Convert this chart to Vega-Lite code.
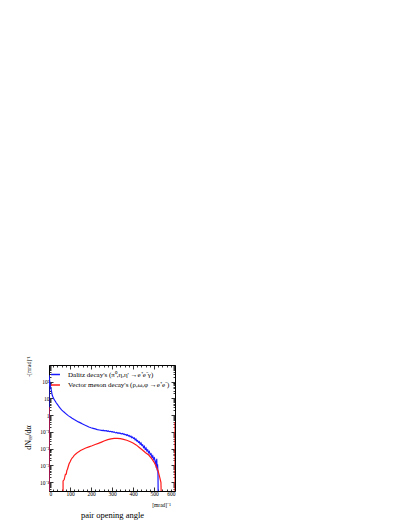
{
  "$schema": "https://vega.github.io/schema/vega-lite/v6.json",
  "width": 126,
  "height": 126,
  "autosize": "none",
  "padding": {"left": 49, "top": 365, "right": 232, "bottom": 36},
  "background": "white",
  "config": {
    "font": "Liberation Serif",
    "view": {"stroke": "black", "strokeWidth": 1},
    "axis": {"domain": false, "grid": false, "labelFont": "Liberation Serif", "titleFont": "Liberation Serif", "tickColor": "black", "labelColor": "black", "titleColor": "black", "titleFontWeight": "normal", "tickWidth": 0.8},
    "legend": {"labelColor": "black", "labelFont": "Liberation Serif"}
  },
  "data": {"values": [
    {"s": "Dalitz", "g": "b", "x": 0, "y": 0.00001}, {"s": "Dalitz", "g": "b", "x": 0, "y": 250},
    {"s": "Dalitz", "g": "b", "x": 1, "y": 200}, {"s": "Dalitz", "g": "b", "x": 2, "y": 160},
    {"s": "Dalitz", "g": "b", "x": 3, "y": 120}, {"s": "Dalitz", "g": "b", "x": 4, "y": 95},
    {"s": "Dalitz", "g": "b", "x": 5, "y": 75}, {"s": "Dalitz", "g": "b", "x": 6, "y": 62},
    {"s": "Dalitz", "g": "b", "x": 7, "y": 52}, {"s": "Dalitz", "g": "b", "x": 8, "y": 45},
    {"s": "Dalitz", "g": "b", "x": 10, "y": 35}, {"s": "Dalitz", "g": "b", "x": 12, "y": 27},
    {"s": "Dalitz", "g": "b", "x": 14, "y": 19}, {"s": "Dalitz", "g": "b", "x": 16, "y": 15},
    {"s": "Dalitz", "g": "b", "x": 18, "y": 13}, {"s": "Dalitz", "g": "b", "x": 20, "y": 11.5},
    {"s": "Dalitz", "g": "b", "x": 23, "y": 9.5}, {"s": "Dalitz", "g": "b", "x": 26, "y": 8.2},
    {"s": "Dalitz", "g": "b", "x": 30, "y": 6.8}, {"s": "Dalitz", "g": "b", "x": 35, "y": 5.4},
    {"s": "Dalitz", "g": "b", "x": 40, "y": 4.4}, {"s": "Dalitz", "g": "b", "x": 45, "y": 3.6},
    {"s": "Dalitz", "g": "b", "x": 50, "y": 3.0}, {"s": "Dalitz", "g": "b", "x": 55, "y": 2.5},
    {"s": "Dalitz", "g": "b", "x": 60, "y": 2.1}, {"s": "Dalitz", "g": "b", "x": 70, "y": 1.6},
    {"s": "Dalitz", "g": "b", "x": 80, "y": 1.25}, {"s": "Dalitz", "g": "b", "x": 90, "y": 0.98},
    {"s": "Dalitz", "g": "b", "x": 100, "y": 0.8}, {"s": "Dalitz", "g": "b", "x": 110, "y": 0.66},
    {"s": "Dalitz", "g": "b", "x": 120, "y": 0.55}, {"s": "Dalitz", "g": "b", "x": 130, "y": 0.47},
    {"s": "Dalitz", "g": "b", "x": 140, "y": 0.4}, {"s": "Dalitz", "g": "b", "x": 150, "y": 0.35},
    {"s": "Dalitz", "g": "b", "x": 160, "y": 0.3}, {"s": "Dalitz", "g": "b", "x": 170, "y": 0.26},
    {"s": "Dalitz", "g": "b", "x": 180, "y": 0.23}, {"s": "Dalitz", "g": "b", "x": 190, "y": 0.2},
    {"s": "Dalitz", "g": "b", "x": 200, "y": 0.18}, {"s": "Dalitz", "g": "b", "x": 210, "y": 0.165},
    {"s": "Dalitz", "g": "b", "x": 220, "y": 0.152}, {"s": "Dalitz", "g": "b", "x": 230, "y": 0.14},
    {"s": "Dalitz", "g": "b", "x": 240, "y": 0.132}, {"s": "Dalitz", "g": "b", "x": 250, "y": 0.125},
    {"s": "Dalitz", "g": "b", "x": 254, "y": 0.121}, {"s": "Dalitz", "g": "b", "x": 258, "y": 0.127},
    {"s": "Dalitz", "g": "b", "x": 262, "y": 0.118}, {"s": "Dalitz", "g": "b", "x": 266, "y": 0.122},
    {"s": "Dalitz", "g": "b", "x": 270, "y": 0.116}, {"s": "Dalitz", "g": "b", "x": 274, "y": 0.119},
    {"s": "Dalitz", "g": "b", "x": 278, "y": 0.111}, {"s": "Dalitz", "g": "b", "x": 282, "y": 0.116},
    {"s": "Dalitz", "g": "b", "x": 286, "y": 0.109}, {"s": "Dalitz", "g": "b", "x": 290, "y": 0.105},
    {"s": "Dalitz", "g": "b", "x": 294, "y": 0.11}, {"s": "Dalitz", "g": "b", "x": 298, "y": 0.102},
    {"s": "Dalitz", "g": "b", "x": 302, "y": 0.104}, {"s": "Dalitz", "g": "b", "x": 306, "y": 0.097},
    {"s": "Dalitz", "g": "b", "x": 310, "y": 0.1}, {"s": "Dalitz", "g": "b", "x": 314, "y": 0.094},
    {"s": "Dalitz", "g": "b", "x": 318, "y": 0.09}, {"s": "Dalitz", "g": "b", "x": 322, "y": 0.095},
    {"s": "Dalitz", "g": "b", "x": 326, "y": 0.087}, {"s": "Dalitz", "g": "b", "x": 330, "y": 0.089},
    {"s": "Dalitz", "g": "b", "x": 334, "y": 0.083}, {"s": "Dalitz", "g": "b", "x": 338, "y": 0.088},
    {"s": "Dalitz", "g": "b", "x": 342, "y": 0.08}, {"s": "Dalitz", "g": "b", "x": 346, "y": 0.078},
    {"s": "Dalitz", "g": "b", "x": 350, "y": 0.082}, {"s": "Dalitz", "g": "b", "x": 354, "y": 0.073},
    {"s": "Dalitz", "g": "b", "x": 358, "y": 0.077}, {"s": "Dalitz", "g": "b", "x": 362, "y": 0.068},
    {"s": "Dalitz", "g": "b", "x": 366, "y": 0.072}, {"s": "Dalitz", "g": "b", "x": 370, "y": 0.063},
    {"s": "Dalitz", "g": "b", "x": 374, "y": 0.068}, {"s": "Dalitz", "g": "b", "x": 378, "y": 0.058},
    {"s": "Dalitz", "g": "b", "x": 382, "y": 0.062}, {"s": "Dalitz", "g": "b", "x": 386, "y": 0.052},
    {"s": "Dalitz", "g": "b", "x": 390, "y": 0.056}, {"s": "Dalitz", "g": "b", "x": 394, "y": 0.046},
    {"s": "Dalitz", "g": "b", "x": 398, "y": 0.05}, {"s": "Dalitz", "g": "b", "x": 402, "y": 0.041},
    {"s": "Dalitz", "g": "b", "x": 406, "y": 0.044}, {"s": "Dalitz", "g": "b", "x": 410, "y": 0.034},
    {"s": "Dalitz", "g": "b", "x": 414, "y": 0.038}, {"s": "Dalitz", "g": "b", "x": 418, "y": 0.029},
    {"s": "Dalitz", "g": "b", "x": 422, "y": 0.031}, {"s": "Dalitz", "g": "b", "x": 426, "y": 0.024},
    {"s": "Dalitz", "g": "b", "x": 430, "y": 0.026}, {"s": "Dalitz", "g": "b", "x": 434, "y": 0.019},
    {"s": "Dalitz", "g": "b", "x": 438, "y": 0.022}, {"s": "Dalitz", "g": "b", "x": 442, "y": 0.016},
    {"s": "Dalitz", "g": "b", "x": 446, "y": 0.017}, {"s": "Dalitz", "g": "b", "x": 450, "y": 0.012},
    {"s": "Dalitz", "g": "b", "x": 454, "y": 0.014}, {"s": "Dalitz", "g": "b", "x": 458, "y": 0.0095},
    {"s": "Dalitz", "g": "b", "x": 462, "y": 0.011}, {"s": "Dalitz", "g": "b", "x": 466, "y": 0.0075},
    {"s": "Dalitz", "g": "b", "x": 470, "y": 0.0085}, {"s": "Dalitz", "g": "b", "x": 474, "y": 0.0058},
    {"s": "Dalitz", "g": "b", "x": 478, "y": 0.0068}, {"s": "Dalitz", "g": "b", "x": 482, "y": 0.0045},
    {"s": "Dalitz", "g": "b", "x": 486, "y": 0.005}, {"s": "Dalitz", "g": "b", "x": 490, "y": 0.0032},
    {"s": "Dalitz", "g": "b", "x": 494, "y": 0.0038}, {"s": "Dalitz", "g": "b", "x": 498, "y": 0.0024},
    {"s": "Dalitz", "g": "b", "x": 502, "y": 0.0028}, {"s": "Dalitz", "g": "b", "x": 506, "y": 0.0016},
    {"s": "Dalitz", "g": "b", "x": 509, "y": 0.002}, {"s": "Dalitz", "g": "b", "x": 511, "y": 0.0007},
    {"s": "Dalitz", "g": "b", "x": 513, "y": 0.0025}, {"s": "Dalitz", "g": "b", "x": 515, "y": 0.0005},
    {"s": "Dalitz", "g": "b", "x": 517, "y": 0.0012}, {"s": "Dalitz", "g": "b", "x": 519, "y": 0.0003},
    {"s": "Dalitz", "g": "b", "x": 520, "y": 0.00001},
    {"s": "Vector", "g": "r0", "x": 0, "y": 0.00001}, {"s": "Vector", "g": "r0", "x": 0, "y": 3},
    {"s": "Vector", "g": "r", "x": 67, "y": 0.00001}, {"s": "Vector", "g": "r", "x": 67, "y": 0.00012},
    {"s": "Vector", "g": "r", "x": 72, "y": 0.00014}, {"s": "Vector", "g": "r", "x": 75, "y": 0.0002},
    {"s": "Vector", "g": "r", "x": 78, "y": 0.0003}, {"s": "Vector", "g": "r", "x": 82, "y": 0.0003},
    {"s": "Vector", "g": "r", "x": 85, "y": 0.0005}, {"s": "Vector", "g": "r", "x": 88, "y": 0.0006},
    {"s": "Vector", "g": "r", "x": 92, "y": 0.0009}, {"s": "Vector", "g": "r", "x": 96, "y": 0.0013},
    {"s": "Vector", "g": "r", "x": 100, "y": 0.0016}, {"s": "Vector", "g": "r", "x": 105, "y": 0.0022},
    {"s": "Vector", "g": "r", "x": 110, "y": 0.0028}, {"s": "Vector", "g": "r", "x": 115, "y": 0.0033},
    {"s": "Vector", "g": "r", "x": 120, "y": 0.004}, {"s": "Vector", "g": "r", "x": 130, "y": 0.0052},
    {"s": "Vector", "g": "r", "x": 140, "y": 0.0065}, {"s": "Vector", "g": "r", "x": 150, "y": 0.0078},
    {"s": "Vector", "g": "r", "x": 160, "y": 0.009}, {"s": "Vector", "g": "r", "x": 175, "y": 0.011},
    {"s": "Vector", "g": "r", "x": 190, "y": 0.013}, {"s": "Vector", "g": "r", "x": 205, "y": 0.015},
    {"s": "Vector", "g": "r", "x": 220, "y": 0.018}, {"s": "Vector", "g": "r", "x": 235, "y": 0.021},
    {"s": "Vector", "g": "r", "x": 250, "y": 0.025}, {"s": "Vector", "g": "r", "x": 265, "y": 0.03},
    {"s": "Vector", "g": "r", "x": 280, "y": 0.035}, {"s": "Vector", "g": "r", "x": 295, "y": 0.039},
    {"s": "Vector", "g": "r", "x": 310, "y": 0.042}, {"s": "Vector", "g": "r", "x": 325, "y": 0.042},
    {"s": "Vector", "g": "r", "x": 340, "y": 0.04}, {"s": "Vector", "g": "r", "x": 355, "y": 0.036},
    {"s": "Vector", "g": "r", "x": 370, "y": 0.032}, {"s": "Vector", "g": "r", "x": 385, "y": 0.027},
    {"s": "Vector", "g": "r", "x": 400, "y": 0.022}, {"s": "Vector", "g": "r", "x": 415, "y": 0.017},
    {"s": "Vector", "g": "r", "x": 430, "y": 0.012}, {"s": "Vector", "g": "r", "x": 445, "y": 0.0085},
    {"s": "Vector", "g": "r", "x": 460, "y": 0.0058}, {"s": "Vector", "g": "r", "x": 475, "y": 0.0042},
    {"s": "Vector", "g": "r", "x": 490, "y": 0.0025}, {"s": "Vector", "g": "r", "x": 500, "y": 0.0016},
    {"s": "Vector", "g": "r", "x": 510, "y": 0.0009}, {"s": "Vector", "g": "r", "x": 520, "y": 0.00045},
    {"s": "Vector", "g": "r", "x": 527, "y": 0.0002}, {"s": "Vector", "g": "r", "x": 533, "y": 0.0001},
    {"s": "Vector", "g": "r", "x": 535, "y": 0.00001},
    {"s": "Vector", "g": "r1", "x": 600, "y": 0.00001}, {"s": "Vector", "g": "r1", "x": 600, "y": 0.4}
  ]},
  "layer": [
    {
      "mark": {"type": "line", "clip": true, "strokeWidth": 1.2},
      "encoding": {
        "x": {"field": "x", "type": "quantitative",
          "scale": {"domain": [0, 600], "nice": false, "zero": false},
          "axis": {"orient": "bottom", "values": [0, 100, 200, 300, 400, 500, 600], "format": "d", "tickSize": -4, "labelFontSize": 5.5, "labelPadding": 4,
            "title": "pair opening angle", "titleColor": "black", "titleFontSize": 8.5, "titleX": 63, "titleY": 23, "titleAlign": "center", "titleBaseline": "middle"}},
        "y": {"field": "y", "type": "quantitative",
          "scale": {"type": "log", "domain": [0.00003, 1000], "nice": false},
          "axis": {"orient": "left", "values": [0.0001, 0.001, 0.01, 0.1, 1, 10, 100], "tickSize": -4, "labelFontSize": 5.5, "labelPadding": 4,
            "labelExpr": "round(log(datum.value)/LN10) == 2 ? '10²' : round(log(datum.value)/LN10) == 1 ? '10' : round(log(datum.value)/LN10) == 0 ? '1' : round(log(datum.value)/LN10) == -1 ? '10⁻¹' : round(log(datum.value)/LN10) == -2 ? '10⁻²' : round(log(datum.value)/LN10) == -3 ? '10⁻³' : '10⁻⁴'",
            "title": "dNₑₑ/dα", "titleColor": "black", "titleFontSize": 8, "titleAngle": -90, "titleX": -20.5, "titleY": 72, "titleAlign": "center", "titleBaseline": "middle"}},
        "color": {"field": "s", "type": "nominal",
          "scale": {"domain": ["Dalitz", "Vector"], "range": ["#1a1aff", "#ff1a1a"]},
          "legend": {"orient": "none", "legendX": 1, "legendY": 4, "title": null, "symbolType": "stroke", "symbolSize": 80, "symbolStrokeWidth": 1.5,
            "labelFontSize": 7, "labelOffset": 7, "rowPadding": 1.5,
            "labelExpr": "datum.label == 'Dalitz' ? \"Dalitz decay's (π⁰,η,η' →e⁺e⁻γ)\" : \"Vector meson decay's (ρ,ω,φ →e⁺e⁻)\""}},
        "detail": {"field": "g", "type": "nominal"},
        "order": {"value": null}
      }
    },
    {
      "mark": {"type": "line", "opacity": 0},
      "encoding": {
        "x": {"field": "x", "type": "quantitative", "axis": {"orient": "top", "values": [0, 100, 200, 300, 400, 500, 600], "tickSize": -4, "labels": false, "title": null}},
        "y": {"field": "y", "type": "quantitative", "axis": {"orient": "right", "values": [0.0001, 0.001, 0.01, 0.1, 1, 10, 100], "tickSize": -4, "labels": false, "title": null}}
      }
    },
    {
      "mark": {"type": "line", "opacity": 0},
      "encoding": {
        "x": {"field": "x", "type": "quantitative", "axis": {"orient": "bottom", "values": [20, 40, 60, 80, 120, 140, 160, 180, 220, 240, 260, 280, 320, 340, 360, 380, 420, 440, 460, 480, 520, 540, 560, 580], "tickSize": -2, "labels": false,
          "title": "[mrad]⁻¹", "titleColor": "black", "titleFontSize": 5.5, "titleX": 112, "titleY": 13, "titleAlign": "center", "titleBaseline": "middle"}},
        "y": {"field": "y", "type": "quantitative", "axis": {"orient": "left", "values": [0.00004, 0.00005, 0.00006, 0.00007, 0.00008, 0.00009, 0.0002, 0.0003, 0.0004, 0.0005, 0.0006, 0.0007, 0.0008, 0.0009, 0.002, 0.003, 0.004, 0.005, 0.006, 0.007, 0.008, 0.009, 0.02, 0.03, 0.04, 0.05, 0.06, 0.07, 0.08, 0.09, 0.2, 0.3, 0.4, 0.5, 0.6, 0.7, 0.8, 0.9, 2, 3, 4, 5, 6, 7, 8, 9, 20, 30, 40, 50, 60, 70, 80, 90, 200, 300, 400, 500, 600, 700, 800, 900], "tickSize": -2, "labels": false,
          "title": "-[mrad]⁻¹", "titleColor": "black", "titleFontSize": 5.5, "titleAngle": -90, "titleX": -21, "titleY": 1, "titleAlign": "center", "titleBaseline": "middle"}}
      }
    },
    {
      "mark": {"type": "line", "opacity": 0},
      "encoding": {
        "x": {"field": "x", "type": "quantitative", "axis": {"orient": "top", "values": [20, 40, 60, 80, 120, 140, 160, 180, 220, 240, 260, 280, 320, 340, 360, 380, 420, 440, 460, 480, 520, 540, 560, 580], "tickSize": -2, "labels": false, "title": null}},
        "y": {"field": "y", "type": "quantitative", "axis": {"orient": "right", "values": [0.00004, 0.00005, 0.00006, 0.00007, 0.00008, 0.00009, 0.0002, 0.0003, 0.0004, 0.0005, 0.0006, 0.0007, 0.0008, 0.0009, 0.002, 0.003, 0.004, 0.005, 0.006, 0.007, 0.008, 0.009, 0.02, 0.03, 0.04, 0.05, 0.06, 0.07, 0.08, 0.09, 0.2, 0.3, 0.4, 0.5, 0.6, 0.7, 0.8, 0.9, 2, 3, 4, 5, 6, 7, 8, 9, 20, 30, 40, 50, 60, 70, 80, 90, 200, 300, 400, 500, 600, 700, 800, 900], "tickSize": -2, "labels": false, "title": null}}
      }
    }
  ],
  "resolve": {"axis": {"x": "independent", "y": "independent"}}
}
